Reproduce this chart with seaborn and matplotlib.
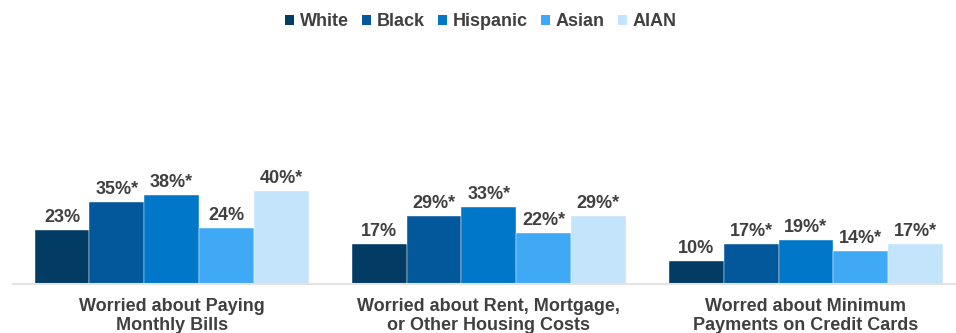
import matplotlib
matplotlib.use("Agg")
import matplotlib.pyplot as plt
from matplotlib.patches import Patch
import pandas as pd
import seaborn as sns

# Survey measures and groups
categories = [
    "Worried about Paying\nMonthly Bills",
    "Worried about Rent, Mortgage,\nor Other Housing Costs",
    "Worred about Minimum\nPayments on Credit Cards",
]
groups = ["White", "Black", "Hispanic", "Asian", "AIAN"]

# Percent worried, by group (one list per measure, in group order)
bills = [23, 35, 38, 24, 40]
housing = [17, 29, 33, 22, 29]
credit = [10, 17, 19, 14, 17]

# Significance marker (difference vs. White) per measure, in group order
bills_sig = [False, True, True, False, True]
housing_sig = [False, True, True, True, True]
credit_sig = [False, True, True, True, True]

colors = ["#023b64", "#03579b", "#0077c8", "#3fa9f5", "#c4e4fb"]
text_color = "#404040"

sns.set_theme(style="white")
plt.rcParams["font.family"] = ["Liberation Sans", "DejaVu Sans"]

rows = []
for cat, vals, sigs in zip(categories, [bills, housing, credit],
                           [bills_sig, housing_sig, credit_sig]):
    for g, v, s in zip(groups, vals, sigs):
        rows.append({"category": cat, "group": g, "value": v, "sig": s})
df = pd.DataFrame(rows)

fig = plt.figure(figsize=(9.56, 3.33), dpi=100)
ax = fig.add_axes([13 / 956, 49 / 333, 1 - 13 / 956, 233 / 333])

sns.barplot(
    data=df, x="category", y="value", hue="group",
    order=categories, hue_order=groups, palette=colors, saturation=1,
    width=0.864, gap=0, edgecolor="white", linewidth=0.3,
    errorbar=None, legend=False, ax=ax,
)

# Value labels above each bar
for container, g in zip(ax.containers, groups):
    sub = df[df["group"] == g].set_index("category").loc[categories]
    labels = [f"{v}%" + ("*" if s else "") for v, s in zip(sub["value"], sub["sig"])]
    ax.bar_label(container, labels=labels, padding=3, fontsize=13,
                 fontweight="bold", color=text_color)

ax.set_ylim(0, 100)
ax.set_xlim(-0.5, (956 - 172) / 317)
ax.set_xlabel("")
ax.set_ylabel("")
ax.set_yticks([])
ax.tick_params(axis="x", length=0, pad=10)
for lbl in ax.get_xticklabels():
    lbl.set_fontsize(13)
    lbl.set_fontweight("bold")
    lbl.set_color(text_color)
    lbl.set_linespacing(1.18)

for side in ["top", "left", "right"]:
    ax.spines[side].set_visible(False)
ax.spines["bottom"].set_color("#e3e3e3")
ax.spines["bottom"].set_linewidth(1.5)

handles = [Patch(facecolor=c, edgecolor="none", label=g) for g, c in zip(groups, colors)]
fig.legend(
    handles=handles, loc="center", bbox_to_anchor=(481 / 956, 1 - 22 / 333),
    ncol=5, frameon=False, handlelength=0.5, handleheight=0.5,
    handletextpad=0.33, columnspacing=0.72,
    prop={"size": 13, "weight": "bold"}, labelcolor=text_color,
)

fig.savefig("out.png", dpi=100)
